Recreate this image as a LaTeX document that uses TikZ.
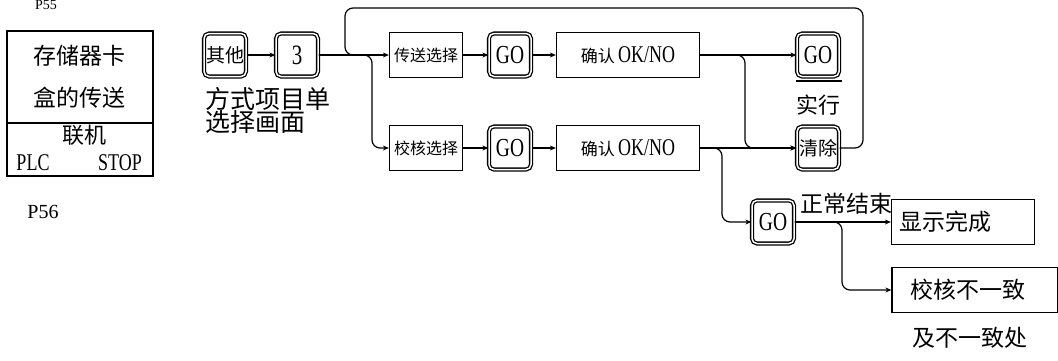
\documentclass[tikz,border=0pt]{standalone}
\usepackage{fontspec}
\newfontfamily\cjk{Noto Sans CJK SC}
\newfontfamily\lat[FakeStretch=0.75]{Liberation Serif}
\newfontfamily\latw{Liberation Serif}
\usetikzlibrary{arrows.meta}
\begin{document}
\begin{tikzpicture}[x=1pt,y=-1pt,
  conn/.style={line width=1.2pt, rounded corners=8pt},
  arr/.style={conn,-{Stealth[length=6pt,width=5pt]}},
  keybox/.style={draw, line width=1.3pt, double distance=1.5pt, rounded corners=5pt,
    minimum width=42pt, minimum height=43pt, inner sep=0pt},
  box/.style={draw, line width=1.3pt, inner sep=0pt, minimum height=45pt},
  cjkf/.style={font=\cjk\fontsize{#1}{#1}\selectfont},
  latf/.style={font=\lat\fontsize{#1}{#1}\selectfont}
]
\useasboundingbox (0,0) rectangle (1058,360);

% left card
\node[draw, line width=1.5pt, minimum width=146pt, minimum height=92pt, inner sep=0pt,
  align=center, font=\cjk\fontsize{23}{42}\selectfont] (cardtop) at (80,77) {存储器卡\\盒的传送};
\node[draw, line width=1.5pt, minimum width=146pt, minimum height=53pt, inner sep=0pt] (cardbot) at (80,149.5) {};
\node[cjkf=22] (lianji) at (84,135) {联机};
\node[latf=24] (plc) at (33,163) {PLC};
\node[latf=24] (stop) at (120,163) {STOP};
\node[font=\latw\fontsize{14}{14}\selectfont, anchor=north, inner sep=0pt] (p55) at (46,0.5) {P55};
\node[font=\latw\fontsize{20}{20}\selectfont, anchor=base] (p56) at (43,218) {P56};

% upper row
\node[keybox, cjkf=19] (k1) at (225,55) {其他};
\node[keybox, latf=28] (k3) at (297,55) {3};
\node[box, minimum width=73pt, cjkf=16] (ts) at (426,55) {传送选择};
\node[keybox, latf=26] (go1) at (510,55) {GO};
\node[box, minimum width=143pt] (qr1) at (628,55) {{\cjk\fontsize{17}{17}\selectfont 确认} {\lat\fontsize{24}{24}\selectfont OK/NO}};
\node[keybox, latf=26] (go2) at (818,55) {GO};
\node[cjkf=22] (shixing) at (818,105) {实行};
\coordinate (ul1) at (796,81);
\coordinate (ul2) at (842,81);
\draw[line width=1.4pt] (ul1) -- (ul2);

% text under keys
\node[cjkf=25, align=left, anchor=north west, inner sep=0pt] (fangshi) at (205,87) {方式项目单\\[-2pt]选择画面};

% lower row
\node[box, minimum width=73pt, cjkf=16] (jh) at (426,148) {校核选择};
\node[keybox, latf=26] (go3) at (510,148) {GO};
\node[box, minimum width=143pt] (qr2) at (628,148) {{\cjk\fontsize{17}{17}\selectfont 确认} {\lat\fontsize{24}{24}\selectfont OK/NO}};
\node[keybox, cjkf=19] (qc) at (818,148) {清除};

% bottom right
\node[keybox, latf=26] (go4) at (773,222) {GO};
\node[cjkf=23] (zc) at (846,204) {正常结束};
\node[box, minimum width=143pt, text width=127pt, inner xsep=8pt, align=left, cjkf=23] (xs) at (963,222) {显示完成};
\node[box, minimum width=166pt, text width=130pt, inner xsep=18pt, align=left, cjkf=23] (jb) at (975,290) {校核不一致};
\node[cjkf=23] (jbc) at (970,338) {及不一致处};

% connectors
\coordinate (sp) at (355,55);
\draw[arr] (k1) -- (k3);
\draw[conn] (k3.east) -- (sp);
\draw[arr] (sp) -- (ts.west);
\draw[arr] (k3.east) -- (372,55) |- (jh.west);
\draw[arr] (ts) -- (go1);
\draw[arr] (go1) -- (qr1);
\draw[arr] (jh) -- (go3);
\draw[arr] (go3) -- (qr2);
\draw[arr] (qr1.east) -- (go2.west);
\draw[arr] (qr1.east) -- (745,55) |- (qc.west);
\draw[arr] (qr2.east) -- (qc.west);
\draw[arr] (qr2.east) -- (722,148) |- (go4.west);
\draw[conn] (qc.east) -- (863,148) |- (345,8) |- (sp);
\draw[arr] (go4.east) -- (xs.west);
\draw[arr] (go4.east) -- (842,222) |- (jb.west);
\end{tikzpicture}
\end{document}
